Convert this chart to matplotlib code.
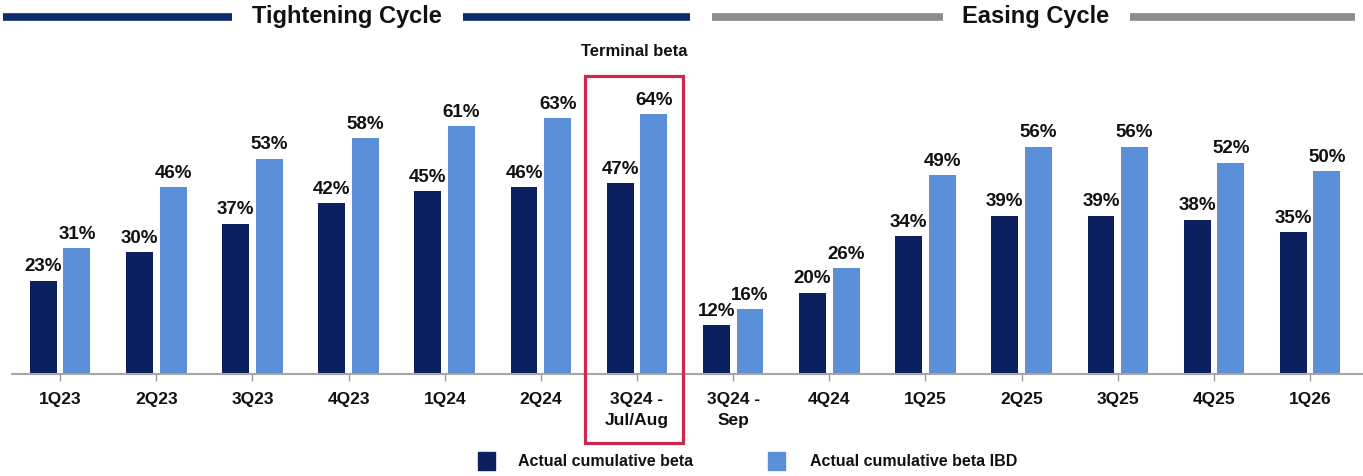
import matplotlib
matplotlib.use("Agg")
import matplotlib.pyplot as plt
from matplotlib.patches import Rectangle
from matplotlib.lines import Line2D
import numpy as np

categories = ["1Q23", "2Q23", "3Q23", "4Q23", "1Q24", "2Q24", "3Q24 -\nJul/Aug",
              "3Q24 -\nSep", "4Q24", "1Q25", "2Q25", "3Q25", "4Q25", "1Q26"]
beta = [23, 30, 37, 42, 45, 46, 47, 12, 20, 34, 39, 39, 38, 35]
beta_ibd = [31, 46, 53, 58, 61, 63, 64, 16, 26, 49, 56, 56, 52, 50]

DARK = "#0c1f5e"
LIGHT = "#5b8fd8"
plt.rcParams['font.family'] = ['Liberation Sans', 'DejaVu Sans']

W, H = 1363, 476
fig = plt.figure(figsize=(W/100, H/100), dpi=100)
ax = fig.add_axes([12/W, 1-374/H, 1351/W, 325/H])

x = np.arange(len(categories))
bw = 0.28
off = 0.175
ax.bar(x - off, beta, bw, color=DARK, zorder=2)
ax.bar(x + off, beta_ibd, bw, color=LIGHT, zorder=2)
for xi, v in zip(x, beta):
    ax.text(xi - off, v + 1.3, f"{v}%", ha="center", va="bottom", fontsize=13.5, fontweight="bold", color="#111111")
for xi, v in zip(x, beta_ibd):
    ax.text(xi + off, v + 1.3, f"{v}%", ha="center", va="bottom", fontsize=13.5, fontweight="bold", color="#111111")

ax.set_xlim(-0.5, 13.55)
ax.set_ylim(0, 80)
ax.set_xticks(x)
ax.set_xticklabels(categories, fontsize=12.5, fontweight="bold", color="#111111", linespacing=1.5)
ax.tick_params(axis="x", length=5, width=1, color="#999999", pad=8)
ax.set_yticks([])
for s in ["top", "right", "left"]:
    ax.spines[s].set_visible(False)
ax.spines["bottom"].set_color("#a6a6a6")
ax.spines["bottom"].set_linewidth(1.5)

# Cycle headers
def hline(x0, x1, y, color):
    fig.add_artist(Line2D([x0/W, x1/W], [1-y/H, 1-y/H], color=color, linewidth=5.5, solid_capstyle="butt"))
hline(3, 232, 17, "#0d2a6b")
hline(463, 690, 17, "#0d2a6b")
hline(712, 943, 17, "#8c8c8c")
hline(1130, 1355, 17, "#8c8c8c")
fig.text(347/W, 1-17/H, "Tightening Cycle", ha="center", va="center", fontsize=17, fontweight="bold", color="#111111")
fig.text(1036/W, 1-17/H, "Easing Cycle", ha="center", va="center", fontsize=17, fontweight="bold", color="#111111")

# Terminal beta box
fig.add_artist(Rectangle((585/W, 1-443/H), 98/W, (443-76)/H, transform=fig.transFigure,
                         fill=False, edgecolor="#d0284c", linewidth=2.3))
fig.text(634/W, 1-51/H, "Terminal beta", ha="center", va="center", fontsize=12, fontweight="bold", color="#111111")

# Legend
fig.add_artist(Rectangle((478/W, 1-470/H), 17/W, 18/H, transform=fig.transFigure, color=DARK))
fig.text(518/W, 1-462/H, "Actual cumulative beta", ha="left", va="center", fontsize=11.5, fontweight="bold", color="#111111")
fig.add_artist(Rectangle((768/W, 1-470/H), 17/W, 18/H, transform=fig.transFigure, color=LIGHT))
fig.text(810/W, 1-462/H, "Actual cumulative beta IBD", ha="left", va="center", fontsize=11.5, fontweight="bold", color="#111111")

fig.savefig("out.png", dpi=100)
